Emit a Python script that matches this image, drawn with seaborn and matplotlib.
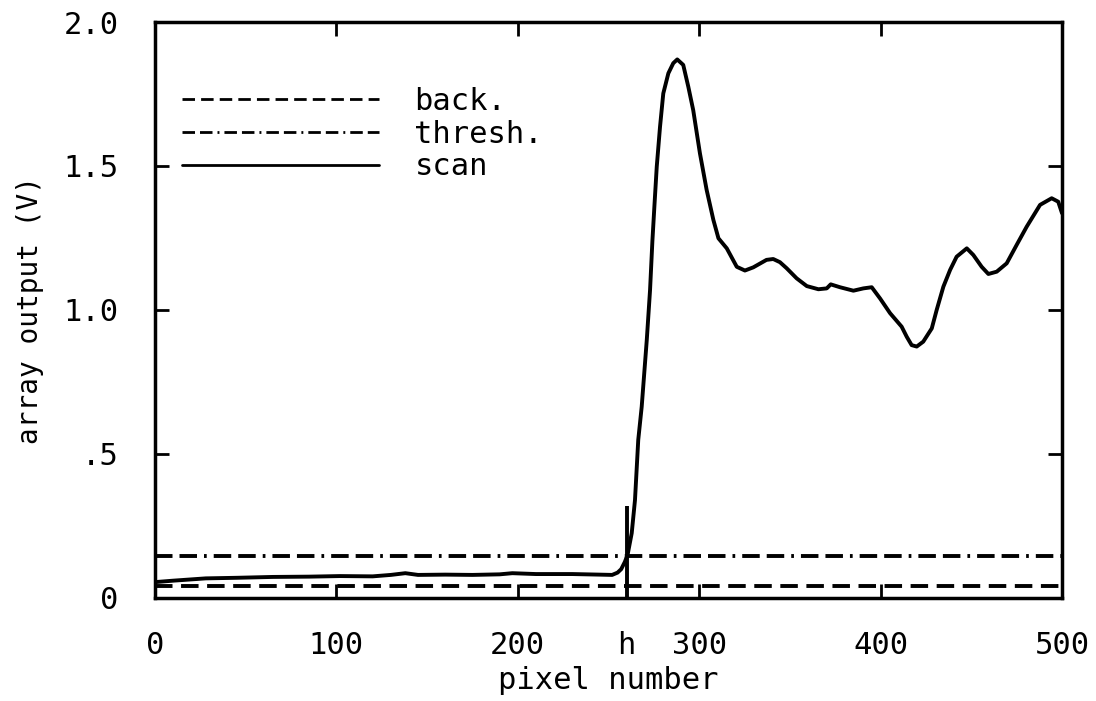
import matplotlib
matplotlib.use("Agg")
import matplotlib.pyplot as plt
import seaborn as sns

# scan profile: pixel index vs. array output (V)
scan_pixel = [0, 10, 28, 45, 65, 85, 102, 120, 130, 138, 145, 160, 175, 190, 197,
              210, 230, 245, 252, 255, 257, 259, 260.5, 262.8, 264.6, 266.4, 268.3,
              271.1, 272.9, 274.2, 275.3, 276.6, 278.4, 280.2, 283, 285.7, 287.9,
              291.2, 294, 296.7, 300.4, 304.1, 307.8, 310.6, 315.2, 320.7, 325.2,
              329.8, 337.1, 340.8, 344.5, 348.2, 353.7, 359.3, 365.7, 370.3, 372.5,
              377.6, 385, 390.5, 395.1, 399.7, 405.2, 411.6, 414.4, 417.1, 419.9,
              423.5, 428.2, 430.9, 434.6, 438.3, 441.9, 447.5, 451.1, 455.7, 459.4,
              464, 469.5, 475, 480.5, 487.9, 494.3, 497.9, 500]
scan_volts = [0.055, 0.060, 0.068, 0.070, 0.073, 0.074, 0.076, 0.075, 0.080, 0.086,
              0.080, 0.081, 0.080, 0.082, 0.086, 0.083, 0.083, 0.081, 0.080, 0.088,
              0.100, 0.125, 0.149, 0.225, 0.340, 0.549, 0.664, 0.896, 1.069, 1.240,
              1.360, 1.498, 1.636, 1.752, 1.822, 1.857, 1.870, 1.851, 1.775, 1.694,
              1.544, 1.417, 1.313, 1.249, 1.214, 1.150, 1.137, 1.148, 1.174, 1.177,
              1.166, 1.145, 1.110, 1.083, 1.072, 1.075, 1.089, 1.079, 1.067, 1.075,
              1.079, 1.040, 0.989, 0.942, 0.907, 0.878, 0.873, 0.890, 0.936, 1.000,
              1.081, 1.139, 1.185, 1.214, 1.191, 1.150, 1.125, 1.133, 1.162, 1.226,
              1.289, 1.365, 1.388, 1.376, 1.336]

# constant background and threshold levels
level_pixel = [0, 500]
back_volts = [0.040, 0.040]
thresh_volts = [0.145, 0.145]

# edge position "h"
h_pixel = 260
h_mark = [0.0, 0.32]

x_ticks = [0, 100, 200, 300, 400, 500]
x_ticklabels = ["0", "100", "200", "300", "400", "500"]
y_ticks = [0, 0.5, 1.0, 1.5, 2.0]
y_ticklabels = ["0", ".5", "1.0", "1.5", "2.0"]

sns.set_theme(style="ticks")
plt.rcParams["font.family"] = ["DejaVu Sans Mono", "DejaVu Sans"]
plt.rcParams["text.color"] = "black"

fig = plt.figure(figsize=(10.96, 7.01), dpi=100)
ax = fig.add_axes([0.1414, 0.147, 0.8276, 0.8216])

lw = 2.8
sns.lineplot(x=level_pixel, y=back_volts, ax=ax, color="black", linewidth=lw,
             label="back.")
ax.lines[-1].set_dashes([4.5, 2.2])
sns.lineplot(x=level_pixel, y=thresh_volts, ax=ax, color="black", linewidth=lw,
             label="thresh.")
ax.lines[-1].set_dashes([4.5, 1.8, 4.5, 1.8, 0.7, 1.8])
sns.lineplot(x=scan_pixel, y=scan_volts, ax=ax, color="black", linewidth=lw,
             label="scan", sort=False, estimator=None)
ax.vlines(h_pixel, h_mark[0], h_mark[1], color="black", linewidth=lw)

ax.set_xlim(0, 500)
ax.set_ylim(0, 2.0)
ax.set_xticks(x_ticks, x_ticklabels)
ax.set_yticks(y_ticks, y_ticklabels)
ax.set_xticks([h_pixel], ["h"], minor=True)
ax.tick_params(axis="both", which="major", direction="in", length=10, width=2,
               top=True, right=True, labelsize=22, colors="black")
ax.tick_params(axis="x", which="major", pad=24)
ax.tick_params(axis="y", which="major", pad=26)
ax.tick_params(axis="x", which="minor", length=0, labelsize=22, pad=24,
               top=False, labelcolor="black")
ax.tick_params(axis="y", which="minor", left=False, right=False)

for s in ax.spines.values():
    s.set_visible(True)
    s.set_linewidth(2.5)
    s.set_color("black")

ax.set_xlabel("pixel number", fontsize=22, labelpad=4, color="black")
ax.set_ylabel("array output (V)", fontsize=20, labelpad=14, color="black")

leg = ax.legend(loc="upper left", bbox_to_anchor=(0.03, 0.887), frameon=False,
                fontsize=22, handlelength=6.45, handletextpad=1.15,
                labelspacing=0.12, borderaxespad=0, borderpad=0,
                labelcolor="black")
for line in leg.get_lines():
    line.set_linewidth(2.0)

ax.set_facecolor("white")
fig.patch.set_facecolor("white")
fig.savefig("out.png", dpi=100)
